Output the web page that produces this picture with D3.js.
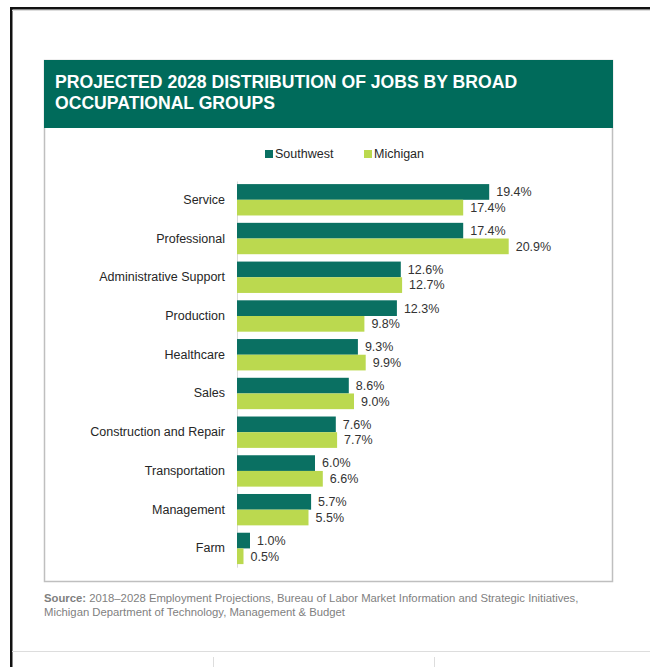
<!DOCTYPE html>
<meta charset="utf-8">
<style>
    body {
        margin: 0;
        background: #fff;
        font-family: "Liberation Sans", Arial, sans-serif;
    }
    .axis path { stroke: #d9d9d9; }
    .axis text { fill: #262626; font-size: 12.5px; font-family: "Liberation Sans", Arial, sans-serif; }
    .value { fill: #333; font-size: 12.5px; }
    .legend text { fill: #262626; font-size: 12.5px; }
    .source { fill: #7f7f7f; font-size: 11.3px; }
</style>
<body>
<script src="https://d3js.org/d3.v7.min.js"></script>
<script>
    var categories = ["Service", "Professional", "Administrative Support", "Production", "Healthcare",
        "Sales", "Construction and Repair", "Transportation", "Management", "Farm"];
    var series = ["Southwest", "Michigan"];
    var southwest = [19.4, 17.4, 12.6, 12.3, 9.3, 8.6, 7.6, 6.0, 5.7, 1.0];
    var michigan = [17.4, 20.9, 12.7, 9.8, 9.9, 9.0, 7.7, 6.6, 5.5, 0.5];

    var titleLines = ["PROJECTED 2028 DISTRIBUTION OF JOBS BY BROAD", "OCCUPATIONAL GROUPS"];
    var sourceLines = ["2018\u20132028 Employment Projections, Bureau of Labor Market Information and Strategic Initiatives,",
        "Michigan Department of Technology, Management & Budget"];

    var data = categories.map(function(c, i) {
        return { cat: c, values: [southwest[i], michigan[i]] };
    });

    var width = 650, height = 667;

    var svg = d3.select("body").append("svg")
        .attr("width", width)
        .attr("height", height);

    // page frame
    svg.append("rect").attr("x", 10).attr("y", 7).attr("width", 640).attr("height", 2.5).attr("fill", "#111");
    svg.append("rect").attr("x", 10).attr("y", 7).attr("width", 2.5).attr("height", 660).attr("fill", "#111");
    svg.append("line").attr("x1", 12).attr("x2", 650).attr("y1", 10.5).attr("y2", 10.5).attr("stroke", "#ddd");
    svg.append("line").attr("x1", 12).attr("x2", 650).attr("y1", 651.5).attr("y2", 651.5).attr("stroke", "#ddd");
    [213.5, 434.5].forEach(function(xv) {
        svg.append("line").attr("x1", xv).attr("x2", xv).attr("y1", 657).attr("y2", 667).attr("stroke", "#ddd");
    });

    // chart box
    svg.append("rect")
        .attr("x", 44.5).attr("y", 60.5).attr("width", 568).attr("height", 521)
        .attr("fill", "none").attr("stroke", "#bfbfbf").attr("stroke-width", 1.5);
    svg.append("rect")
        .attr("x", 44).attr("y", 60).attr("width", 569).attr("height", 68)
        .attr("fill", "#006b5b");

    svg.selectAll(".title").data(titleLines).enter().append("text")
        .attr("class", "title")
        .attr("x", 55)
        .attr("y", function(d, i) { return 88 + i * 21; })
        .attr("fill", "#fff")
        .style("font-size", "17.6px")
        .style("font-weight", "bold")
        .text(function(d) { return d; });

    var color = d3.scaleOrdinal().domain(series).range(["#0a7062", "#bbd94f"]);

    // legend
    var legend = svg.selectAll(".legend")
        .data(series)
        .enter().append("g")
        .attr("class", "legend")
        .attr("transform", function(d, i) { return "translate(" + (265 + i * 99) + ",150)"; });
    legend.append("rect").attr("width", 8).attr("height", 8).attr("fill", color);
    legend.append("text").attr("x", 10).attr("y", 4).attr("dy", "0.35em").text(function(d) { return d; });

    var x = d3.scaleLinear().domain([0, 20]).range([237, 497]);
    var y = d3.scaleBand().domain(categories).range([181, 567.2]).paddingInner(0.19).paddingOuter(0.08);
    var y1 = d3.scaleBand().domain(series).range([0, y.bandwidth()]);

    var yAxis = d3.axisLeft(y).tickSize(0).tickPadding(12);
    svg.append("g")
        .attr("class", "axis")
        .attr("transform", "translate(237,0)")
        .call(yAxis);

    var groups = svg.selectAll(".group")
        .data(data)
        .enter().append("g")
        .attr("class", "group")
        .attr("transform", function(d) { return "translate(0," + y(d.cat) + ")"; });

    groups.selectAll("rect")
        .data(function(d) { return d.values.map(function(v, i) { return { s: series[i], v: v }; }); })
        .enter().append("rect")
        .attr("x", x(0))
        .attr("y", function(d) { return y1(d.s); })
        .attr("width", function(d) { return x(d.v) - x(0); })
        .attr("height", y1.bandwidth())
        .attr("fill", function(d) { return color(d.s); });

    groups.selectAll(".value")
        .data(function(d) { return d.values.map(function(v, i) { return { s: series[i], v: v }; }); })
        .enter().append("text")
        .attr("class", "value")
        .attr("x", function(d) { return x(d.v) + 7; })
        .attr("y", function(d) { return y1(d.s) + y1.bandwidth() / 2; })
        .attr("dy", "0.35em")
        .text(function(d) { return d.v.toFixed(1) + "%"; });

    // source note
    var src = svg.append("text").attr("class", "source").attr("x", 44).attr("y", 602);
    src.append("tspan").style("font-weight", "bold").text("Source: ");
    src.append("tspan").text(sourceLines[0]);
    svg.append("text").attr("class", "source").attr("x", 44).attr("y", 616).text(sourceLines[1]);
</script>
</body>
